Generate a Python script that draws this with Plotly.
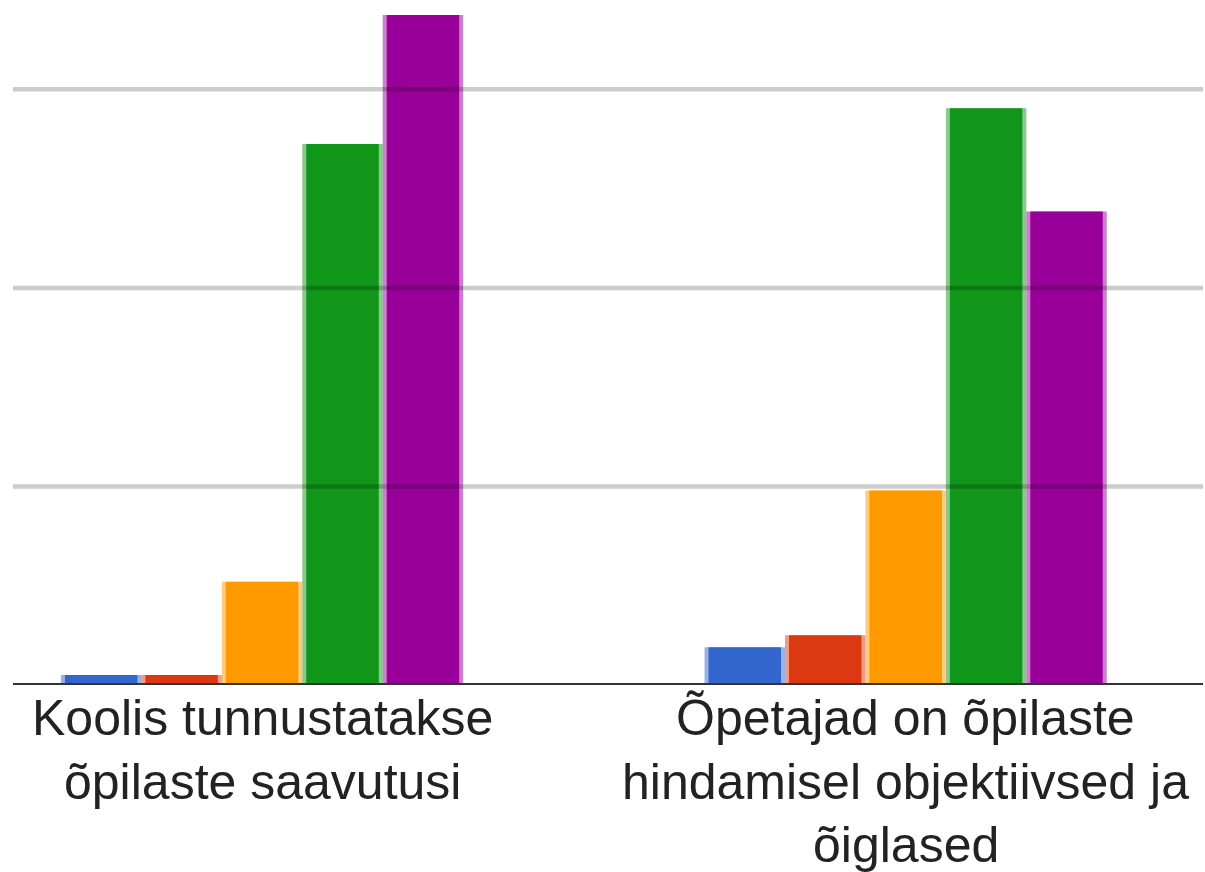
import plotly.graph_objects as go

CATEGORIES = [
    "Koolis tunnustatakse<br>õpilaste saavutusi",
    "Õpetajad on õpilaste<br>hindamisel objektiivsed ja<br>õiglased",
]
BLUE_VALUES = [1.0, 3.8]
RED_VALUES = [1.0, 5.0]
ORANGE_VALUES = [10.4, 19.6]
GREEN_VALUES = [54.5, 58.1]
PURPLE_VALUES = [67.5, 47.7]
Y_GRID = [20, 40, 60]

SERIES = [
    (BLUE_VALUES, "#3366cc"),
    (RED_VALUES, "#dc3912"),
    (ORANGE_VALUES, "#ff9900"),
    (GREEN_VALUES, "#109618"),
    (PURPLE_VALUES, "#990099"),
]

SLOT = 0.125      # width of one bar in category units
FRINGE = 0.0062   # light edge on each side of a bar
LABEL_TOP = 3     # px below the axis to the first label line
LABEL_STEP = 63.5 # px between label lines

fig = go.Figure()
n = len(SERIES)
for i, (vals, color) in enumerate(SERIES):
    off = -SLOT * n / 2 + i * SLOT
    # light full-width bar (soft edge)
    fig.add_trace(go.Bar(
        x=CATEGORIES, y=vals, offset=off, width=SLOT,
        marker=dict(color=color, opacity=0.5, line_width=0),
        hoverinfo="skip", showlegend=False,
    ))
    # solid core
    fig.add_trace(go.Bar(
        x=CATEGORIES, y=vals, offset=off + FRINGE, width=SLOT - 2 * FRINGE,
        marker=dict(color=color, line_width=0),
        showlegend=False,
    ))

for g in Y_GRID:
    fig.add_hline(y=g, line_width=4.5, line_color="rgba(0,0,0,0.2)", layer="above")
fig.add_hline(y=0, line_width=4, line_color="#333333", layer="above")

# category labels, one annotation per line so the line spacing can be set
for ci, cat in enumerate(CATEGORIES):
    for li, line in enumerate(cat.split("<br>")):
        fig.add_annotation(
            x=ci, xref="x", y=0, yref="paper",
            yanchor="top", xanchor="center",
            yshift=-(LABEL_TOP + li * LABEL_STEP),
            text=line, showarrow=False,
            font=dict(size=50, color="#222222"),
        )

fig.update_layout(
    template=None,
    width=1205,
    height=872,
    paper_bgcolor="white",
    plot_bgcolor="white",
    barmode="overlay",
    margin=dict(l=13, r=2, t=0, b=187),
    font=dict(family="Liberation Sans, Arial, sans-serif", size=50, color="#222222"),
    showlegend=False,
)
fig.update_xaxes(
    type="category",
    range=[-0.387, 1.462],
    automargin=False,
    showgrid=False,
    showline=False,
    zeroline=False,
    ticks="",
    showticklabels=False,
)
fig.update_yaxes(
    range=[0, 69],
    automargin=False,
    showgrid=False,
    zeroline=False,
    showline=False,
    showticklabels=False,
    ticks="",
)

# drop the browser's default body margin so the chart fills the window exactly
fig.write_html(
    "out.html",
    config={"displayModeBar": False},
    post_script="document.body.style.margin='0';",
)
